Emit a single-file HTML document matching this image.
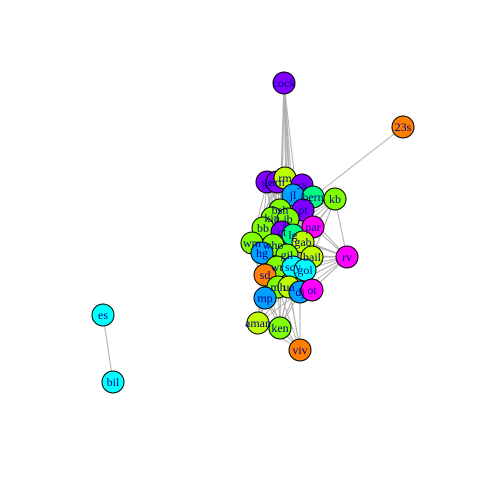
<!DOCTYPE html>
<html><head><meta charset="utf-8"><style>
html,body{margin:0;padding:0;background:#fff}
svg text{font-family:"Liberation Serif",serif;font-size:12px;fill:#00008b}
</style></head><body>
<svg id="g" width="480" height="480" xmlns="http://www.w3.org/2000/svg"></svg>
<script>
const labels=["cock","ge","arn","rm","sx","jl","bern","kb","pt","bsh","kip","jb","par","bb","ct","lg","gab","wm","who","hg","gil","bail","rv","wr","scy","gol","sd","mh","ua","dj","ot","mp","aman","ken","viv","23s","es","bil"];
const xs=[284,267,277,285,302,293,313,335,303,280,272,288,313,263,282,293,303,252,273,262,287,312,347,277,293,305,265,278,289,300,312,265,258,280,300,403,103,113];
const ys=[83,182,182,178,185,195,197,199,210,210,218,219,227,228,232,235,242,243,245,253,255,257,257,267,267,270,275,287,287,292,290,298,323,328,350,127,315,382];
const cols=["#8000FF","#8000FF","#8000FF","#BFFF00","#8000FF","#00A0FF","#00FF80","#80FF00","#8000FF","#80FF00","#80FF00","#80FF00","#FF00FF","#80FF00","#8000FF","#00FF80","#BFFF00","#80FF00","#80FF00","#00A0FF","#80FF00","#BFFF00","#FF00FF","#80FF00","#00FFFF","#00FFFF","#FF8000","#80FF00","#BFFF00","#00A0FF","#FF00FF","#00A0FF","#BFFF00","#80FF00","#FF8000","#FF8000","#00FFFF","#00FFFF"];
const edgeFrom=[0,0,0,0,0,0,0,0,0,35,36,7,7,7,22,22,22,22,34,34,34,34,32,32,33,33,31,31,4,8,12,30,21];
const edgeTo=[9,11,15,20,24,27,29,33,25,6,37,6,12,21,12,16,21,30,27,28,31,33,19,23,28,24,17,24,29,29,30,29,28];
const svg=document.getElementById('g');
const NS="http://www.w3.org/2000/svg";
const cluster=[];for(let i=1;i<=34;i++)cluster.push(i);
const ef=edgeFrom.slice(),et=edgeTo.slice();
for(let a=0;a<cluster.length;a++)for(let b=a+1;b<cluster.length;b++){
 const i=cluster[a],j=cluster[b];
 if(Math.hypot(xs[i]-xs[j],ys[i]-ys[j])<70&&((i*7+j*3)%3!==0)){ef.push(i);et.push(j);}
}
for(let k=0;k<ef.length;k++){
 const l=document.createElementNS(NS,'line');
 
 
 l.setAttribute('x1',xs[ef[k]]);l.setAttribute('y1',ys[ef[k]]);
 l.setAttribute('x2',xs[et[k]]);l.setAttribute('y2',ys[et[k]]);
 l.setAttribute('stroke','#b0b0b0');l.setAttribute('stroke-width','1');
 svg.appendChild(l);
}
for(let i=0;i<labels.length;i++){
 const c=document.createElementNS(NS,'circle');
 
 
 c.setAttribute('cx',xs[i]);c.setAttribute('cy',ys[i]);c.setAttribute('r',11);
 c.setAttribute('fill',cols[i]);c.setAttribute('stroke','#000');c.setAttribute('stroke-width','1');
 svg.appendChild(c);
}
for(let i=0;i<labels.length;i++){
 const t=document.createElementNS(NS,'text');
 
 
 t.setAttribute('x',xs[i]);t.setAttribute('y',ys[i]+4);t.setAttribute('text-anchor','middle');
 t.textContent=labels[i];
 svg.appendChild(t);
}
</script>
</body></html>
